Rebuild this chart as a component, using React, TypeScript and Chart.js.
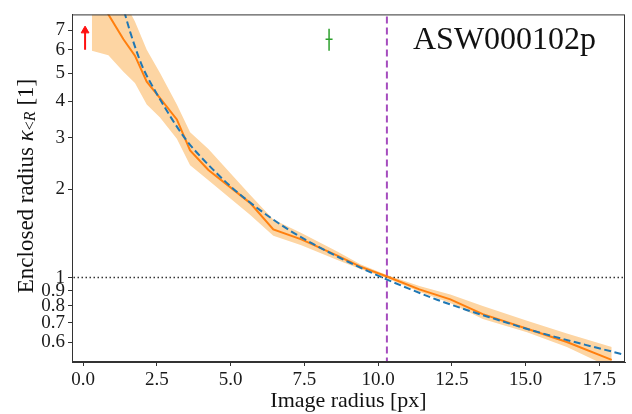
import React, { useEffect, useRef } from 'react';
import { Chart, registerables } from 'chart.js';

Chart.register(...registerables);

// Image radius knots [px] of the measured profile
const radiusKnots = [0.3, 0.86, 1.37, 1.76, 2.16, 2.61, 3.18, 3.63, 4.25, 5.66, 6.45, 7.4, 8.6, 9.4, 10.3, 11.4, 12.45, 13.55, 15.05, 16.4, 17.92];
// Enclosed convergence: mean, upper and lower envelope
const kappaMean = [9.8, 7.93, 6.52, 5.73, 4.67, 4.1, 3.47, 2.72, 2.33, 1.8, 1.46, 1.35, 1.19, 1.09, 1.008, 0.911, 0.842, 0.75, 0.668, 0.602, 0.523];
const kappaUpper = [13, 11, 8.9, 7.5, 6.0, 5.0, 3.9, 3.14, 2.75, 1.92, 1.58, 1.42, 1.23, 1.11, 1.02, 0.935, 0.875, 0.8, 0.712, 0.644, 0.579];
const kappaLower = [5.96, 5.75, 5.05, 4.62, 3.9, 3.52, 2.98, 2.42, 2.15, 1.64, 1.39, 1.29, 1.15, 1.07, 0.995, 0.895, 0.818, 0.722, 0.65, 0.579, 0.49];

// Model fit (dashed blue)
const fitRadius = [1.3, 1.6, 2.0, 2.5, 3.0, 3.5, 4.0, 5.0, 6.0, 7.0, 8.0, 9.0, 10.0, 11.0, 12.0, 13.0, 14.0, 15.0, 16.0, 17.0, 18.5];
const fitKappa = [8.8, 6.9, 5.3, 4.25, 3.5, 2.95, 2.58, 2.05, 1.7, 1.45, 1.27, 1.13, 1.015, 0.92, 0.84, 0.775, 0.72, 0.67, 0.627, 0.59, 0.54];

// Einstein radius and reference level
const einsteinRadius = 10.3;
const einsteinSpan = [0.3, 12];
const referenceKappa = 1;
const referenceSpan = [-1, 20];

// Red arrow (lower limit) and green marker
const arrowRadius = 0.07;
const arrowKappa = [6.0, 6.98];
const markerRadius = 8.34;
const markerKappa = 6.52;
const markerRange = [5.96, 7.08];

// Axis ticks
const xTicks = [0, 2.5, 5, 7.5, 10, 12.5, 15, 17.5];
const yTicks = [0.6, 0.7, 0.8, 0.9, 1, 2, 3, 4, 5, 6, 7];

const objectName = 'ASW000102p';
const xTitle = 'Image radius [px]';

const SERIF = '"Liberation Serif", "DejaVu Serif", serif';

const toPts = (xs: number[], ys: number[]) => xs.map((x, i) => ({ x, y: ys[i] }));

const textPlugin = {
  id: 'texts',
  afterDatasetsDraw(chart: any) {
    const { ctx, chartArea } = chart;
    ctx.save();
    // frame
    ctx.strokeStyle = '#333';
    ctx.lineWidth = 1;
    ctx.strokeRect(chartArea.left + 0.5, chartArea.top + 0.5, chartArea.right - chartArea.left - 1, chartArea.bottom - chartArea.top - 1);
    // object name
    ctx.fillStyle = '#111';
    ctx.font = `32px ${SERIF}`;
    ctx.textAlign = 'left';
    ctx.textBaseline = 'alphabetic';
    ctx.fillText(objectName, 413, 49);
    // x title
    ctx.font = `22px ${SERIF}`;
    ctx.textAlign = 'center';
    ctx.textBaseline = 'middle';
    ctx.fillText(xTitle, (chartArea.left + chartArea.right) / 2, 401);
    // y title with subscript
    const segs = [
      { t: 'Enclosed radius ', f: `23px ${SERIF}`, dy: 0 },
      { t: 'κ', f: `italic 23px ${SERIF}`, dy: 0 },
      { t: '<', f: `16px ${SERIF}`, dy: 4 },
      { t: 'R', f: `italic 16px ${SERIF}`, dy: 4 },
      { t: ' [1]', f: `23px ${SERIF}`, dy: 0 },
    ];
    let total = 0;
    const widths = segs.map((s) => {
      ctx.font = s.f;
      const w = ctx.measureText(s.t).width;
      total += w;
      return w;
    });
    ctx.translate(27, 186);
    ctx.rotate(-Math.PI / 2);
    ctx.textAlign = 'left';
    ctx.textBaseline = 'middle';
    let cx = -total / 2;
    segs.forEach((s, i) => {
      ctx.font = s.f;
      ctx.fillText(s.t, cx, s.dy);
      cx += widths[i];
    });
    ctx.restore();
  },
};

export default function App() {
  const ref = useRef<HTMLCanvasElement>(null);
  useEffect(() => {
    document.body.style.margin = '0';
    Chart.defaults.font.family = SERIF;
    const canvas = ref.current!;
    const none = { pointRadius: 0, pointHoverRadius: 0 };
    const chart = new Chart(canvas, {
      type: 'line',
      data: {
        datasets: [
          {
            label: 'fit',
            data: toPts(fitRadius, fitKappa),
            borderColor: '#1f77b4',
            borderWidth: 2,
            borderDash: [7, 3.5],
            cubicInterpolationMode: 'monotone',
            fill: false,
            order: 0,
            ...none,
          },
          {
            label: 'mean',
            data: toPts(radiusKnots, kappaMean),
            borderColor: '#ff7f0e',
            borderWidth: 2,
            fill: false,
            order: 1,
            ...none,
          },
          {
            label: 'einstein',
            data: einsteinSpan.map((y) => ({ x: einsteinRadius, y })),
            borderColor: '#a54cbe',
            borderWidth: 2,
            borderDash: [7, 4],
            fill: false,
            order: 2,
            ...none,
          },
          {
            label: 'ref',
            data: referenceSpan.map((x) => ({ x, y: referenceKappa })),
            borderColor: '#333',
            borderWidth: 1.5,
            borderDash: [1.5, 2.5],
            fill: false,
            order: 3,
            ...none,
          },
          {
            label: 'arrowShaft',
            data: arrowKappa.map((y) => ({ x: arrowRadius, y })),
            borderColor: '#ff1010',
            borderWidth: 2,
            fill: false,
            order: 0,
            ...none,
          },
          {
            label: 'arrowHead',
            data: [{ x: arrowRadius, y: arrowKappa[1] }],
            showLine: false,
            pointStyle: 'triangle',
            pointRadius: 4.5,
            backgroundColor: '#ff1010',
            borderColor: '#ff1010',
            borderWidth: 1,
            order: 0,
          },
          {
            label: 'markerBar',
            data: markerRange.map((y) => ({ x: markerRadius, y })),
            borderColor: '#2ca02c',
            borderWidth: 1.5,
            fill: false,
            order: 0,
            ...none,
          },
          {
            label: 'markerTick',
            data: [{ x: markerRadius, y: markerKappa }],
            showLine: false,
            pointStyle: 'line',
            pointRadius: 3.5,
            borderColor: '#2ca02c',
            borderWidth: 1.5,
            order: 0,
          },
          {
            label: 'upper',
            data: toPts(radiusKnots, kappaUpper),
            borderWidth: 0,
            borderColor: 'rgba(0,0,0,0)',
            fill: false,
            order: 5,
            ...none,
          },
          {
            label: 'lower',
            data: toPts(radiusKnots, kappaLower),
            borderWidth: 0,
            borderColor: 'rgba(0,0,0,0)',
            backgroundColor: '#fdd5a3',
            fill: '-1',
            order: 6,
            ...none,
          },
        ] as any,
      },
      options: {
        responsive: false,
        animation: false,
        devicePixelRatio: 1,
        layout: { padding: { left: 0, right: 7, top: 8, bottom: 0 } },
        plugins: {
          legend: { display: false },
          tooltip: { enabled: false },
          title: { display: false },
        },
        scales: {
          x: {
            type: 'linear',
            min: -0.373,
            max: 18.37,
            afterBuildTicks: (s: any) => {
              s.ticks = xTicks.map((v) => ({ value: v }));
            },
            afterFit: (s: any) => {
              s.height = 52;
            },
            ticks: {
              callback: (v: any) => Number(v).toFixed(1),
              font: { size: 19, family: SERIF },
              color: '#1a1a1a',
              maxRotation: 0,
              autoSkip: false,
              padding: 3,
            },
            grid: { display: true, drawOnChartArea: false, drawTicks: true, tickLength: 4, color: '#333' },
            border: { display: true, color: '#333', width: 1 },
          },
          y: {
            type: 'logarithmic',
            min: 0.5145,
            max: 7.93,
            afterBuildTicks: (s: any) => {
              s.ticks = yTicks.map((v) => ({ value: v, major: v === 1 }));
            },
            afterFit: (s: any) => {
              s.width = 72;
            },
            ticks: {
              callback: (v: any) => String(v),
              font: { size: 19, family: SERIF },
              color: '#1a1a1a',
              autoSkip: false,
              padding: 3,
            },
            grid: { display: true, drawOnChartArea: false, drawTicks: true, tickLength: 4, color: '#333' },
            border: { display: true, color: '#333', width: 1 },
          },
        },
      } as any,
      plugins: [textPlugin],
    });
    return () => chart.destroy();
  }, []);
  return (
    <div style={{ width: 632, height: 414, background: '#fff' }}>
      <canvas ref={ref} width={632} height={414} style={{ display: 'block', width: 632, height: 414 }} />
    </div>
  );
}
